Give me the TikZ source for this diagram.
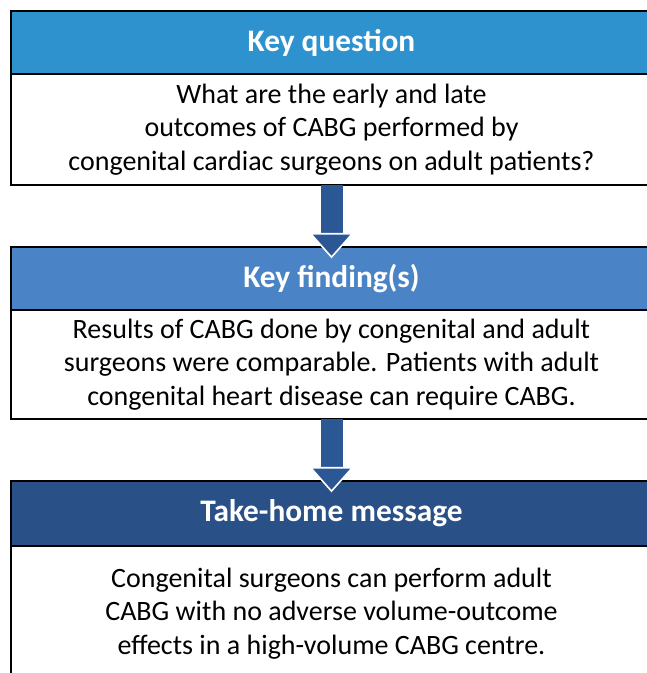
\documentclass[tikz,border=0pt]{standalone}
\usepackage{fontspec}
\setmainfont{Carlito}
\usetikzlibrary{arrows.meta}
\usetikzlibrary{positioning}
\definecolor{qblue}{HTML}{2E92CE}
\definecolor{fblue}{HTML}{4A84C6}
\definecolor{mblue}{HTML}{2A5088}
\definecolor{arrowblue}{HTML}{2B5795}
\tikzset{
  head/.style={draw, line width=1.5pt, outer sep=0pt, text=white, minimum width=480.75pt, minimum height=47.25pt, font=\fontsize{23.5}{27}\selectfont\bfseries},
  body/.style={draw, line width=1.5pt, outer sep=0pt, fill=white, minimum width=480.75pt, align=center, font=\fontsize{21}{25}\selectfont},
  flow/.style={draw=arrowblue, line width=16.5pt, shorten >=-8.5pt, -{Triangle[length=19pt, width=33.5pt, line width=1.2pt, color=white, fill=arrowblue]}}
}

\begin{document}
\begin{tikzpicture}[x=0.75pt, y=0.75pt]
\useasboundingbox (0,0) rectangle (646,673);
\node [head, fill=qblue, anchor=north west] (qhead) at (11,662) {Key question};
\node [body, minimum height=83.25pt, below=0pt of qhead] (qbody) {What are the early and late\\outcomes of CABG performed by\\congenital cardiac surgeons on adult patients?};
\node [head, fill=fblue, below=46.5pt of qbody] (fhead) {Key finding(s)};
\node [body, minimum height=81.75pt, below=0pt of fhead] (fbody) {Results of CABG done by congenital and adult\\surgeons were comparable. Patients with adult\\congenital heart disease can require CABG.};
\node [head, fill=mblue, minimum height=48.75pt, below=46.5pt of fbody] (mhead) {Take-home message};
\node [body, minimum height=101.25pt, below=0pt of mhead] (mbody) {Congenital surgeons can perform adult\\CABG with no adverse volume-outcome\\effects in a high-volume CABG centre.};
\draw [flow] (qbody.south) -- (fhead.north);
\draw [flow] (fbody.south) -- (mhead.north);
\end{tikzpicture}
\end{document}
